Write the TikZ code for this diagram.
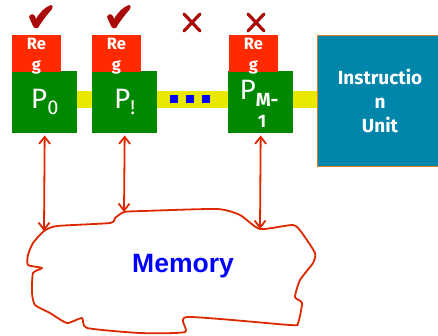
\documentclass[tikz,border=0pt]{standalone}
\usepackage{fontspec}
\newfontfamily\comic{Fira Sans}
\newfontfamily\arial{Liberation Sans}
\usetikzlibrary{arrows.meta}
\definecolor{regred}{RGB}{255,42,0}
\definecolor{procgreen}{RGB}{0,136,0}
\definecolor{busyellow}{RGB}{232,232,0}
\definecolor{iublue}{RGB}{0,134,170}
\definecolor{iuedge}{RGB}{230,120,40}
\definecolor{linkred}{RGB}{221,40,0}
\definecolor{markred}{RGB}{170,10,10}
\begin{document}
\begin{tikzpicture}[x=1pt,y=-1pt]
        \tikzstyle{proc}=[fill=procgreen, minimum width=65, minimum height=62, inner sep=0pt, anchor=north west, text=white, font=\comic\fontsize{28}{30}\selectfont];
        \tikzstyle{reg}=[fill=regred, minimum width=49, minimum height=37, inner sep=0pt, anchor=north west];
        \tikzstyle{regtext}=[text=white, align=center, anchor=north, inner sep=0pt, font=\comic\bfseries\fontsize{16.5}{21}\selectfont];
        \tikzstyle{cross}=[draw=markred, line width=3.2, line cap=round];
        \tikzstyle{link}=[draw=linkred, line width=1.8, {Straight Barb[length=7,width=11]}-{Straight Barb[length=7,width=11]}];
        \useasboundingbox (0,0) rectangle (438,335);
        % bus
        \fill[busyellow] (77,91) rectangle (317,108);
        \foreach \x in {170,186,202} \fill[blue] (\x,95) rectangle ++(8,8);
        % instruction unit
        \node (iu) [fill=iublue, draw=iuedge, line width=1, minimum width=130, minimum height=131, inner sep=0pt, anchor=north west] at (317,35) {};
        \node (iutext) [text=white, align=center, font=\comic\bfseries\fontsize{19}{24}\selectfont] at (380,101) {Instructio\\n\\Unit};
        % processors and registers
        \node (p0) [proc] at (12,71) {P\raisebox{-6pt}{\fontsize{20}{20}\selectfont 0}};
        \node (p1) [proc] at (92,71) {P\raisebox{-6pt}{\fontsize{20}{20}\selectfont !}};
        \node (pm) [proc] at (228,71) {};
        \node (pmtext) [text=white, anchor=north, inner sep=0pt, font=\comic\fontsize{28}{30}\selectfont] at (259,80) {P\raisebox{-7pt}{\fontsize{19}{19}\selectfont\bfseries M-}};
        \node (pmone) [text=white, anchor=north, inner sep=0pt, font=\comic\bfseries\fontsize{18}{18}\selectfont] at (262,115) {1};
        \node (r0) [reg] at (12,35) {};
        \node (r1) [reg] at (92,35) {};
        \node (rm) [reg] at (229,35) {};
        \node (r0text) [regtext] at (36.5,38) {Re\\g};
        \node (r1text) [regtext] at (116.5,38) {Re\\g};
        \node (rmtext) [regtext] at (253.5,38) {Re\\g};
        % marks
        \foreach \x in {29,107}
          \fill[markred] (\x,17) .. controls (\x+1,14) and (\x+4,13) .. (\x+6,16) -- (\x+7,19) .. controls (\x+11,12) and (\x+16,7) .. (\x+22,5) .. controls (\x+24,5) and (\x+24,7) .. (\x+23,9) .. controls (\x+18,15) and (\x+13,21) .. (\x+9,28) .. controls (\x+7,29) and (\x+5,28) .. (\x+4,26) -- cycle;
        \draw[cross] (184,14) -- (200,31) (200,14) -- (184,31);
        \draw[cross] (248,14) -- (264,31) (264,14) -- (248,31);
        % memory
        \coordinate (m0) at (44,231);
        \coordinate (m1) at (124,212);
        \coordinate (m2) at (260,229);
        \draw[linkred, line width=1.8, line join=round] plot[smooth cycle, tension=0.35] coordinates {(m0) (57,226) (110,223) (115,218) (m1) (143,211) (217,209) (240,215) (m2) (293,225) (302,233) (315,253) (313,263) (300,280) (295,297) (302,303) (298,323) (290,325) (187,317) (185,332) (140,333) (87,328) (82,318) (67,323) (50,313) (35,305) (32,293) (33,273) (42,268) (28,265) (28,255) (33,243)};
        \node (mem) [text=blue, font=\arial\bfseries\fontsize{26.5}{26.5}\selectfont] at (183,266) {Memory};
        % links
        \draw[link, shorten <=2] (p0.south) -- (m0);
        \draw[link, shorten <=2] (p1.south) -- (m1);
        \draw[link, shorten <=2] (pm.south) -- (m2);
\end{tikzpicture}
\end{document}
